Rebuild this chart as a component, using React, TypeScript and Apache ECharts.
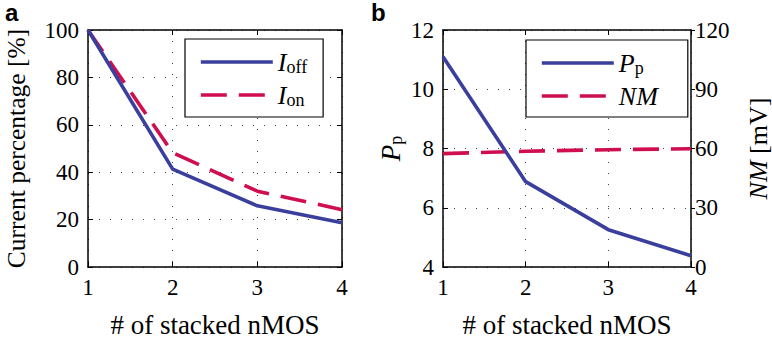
import React, { useEffect, useRef } from "react";
import * as echarts from "echarts";

const stacks = [1, 2, 3, 4];
const ioff = [100, 41.3, 25.8, 18.7];
const ion = [100, 48.2, 32.0, 24.2];
const pp = [11.1, 6.88, 5.26, 4.38];
const nm = [57.4, 58.6, 59.4, 59.9];

const leftTicks = { min: 0, max: 100, interval: 20 };
const ppTicks = { min: 4, max: 12, interval: 2 };
const nmTicks = { min: 0, max: 120, interval: 30 };

const BLUE = "#3a3f9e";
const RED = "#cf0d4f";
const SERIF = "Liberation Serif";
const TICK_FS = 23;
const LW = 3.6;
const DASH = [26, 12];

const pairs = (xs: number[], ys: number[]) => xs.map((x, i) => [x, ys[i]]);

const richTxt = {
  n: { fontFamily: SERIF, fontSize: 27, color: "#000" },
  y: { fontFamily: SERIF, fontSize: 25.5, color: "#000" },
  i: { fontFamily: SERIF, fontStyle: "italic", fontSize: 27, color: "#000" },
  li: { fontFamily: SERIF, fontStyle: "italic", fontSize: 26, color: "#000" },
  r: { fontFamily: SERIF, fontSize: 26, color: "#000" },
  s: { fontFamily: SERIF, fontSize: 18, color: "#000", padding: [10, 0, 0, 0] },
};

function baseAxisLine() {
  return { show: true, onZero: false, lineStyle: { color: "#000", width: 1.5 } };
}

export default function App() {
  const ref = useRef<HTMLDivElement>(null);
  useEffect(() => {
    document.body.style.margin = "0";
    const chart = echarts.init(ref.current!, null, { renderer: "svg" });
    const label = { color: "#000", fontFamily: SERIF, fontSize: TICK_FS };
    const split = { show: true, lineStyle: { type: [1, 10], color: "#444", width: 1 } };
    const tickIn = { show: true, inside: true, length: 5, lineStyle: { color: "#000", width: 1 } };
    const mainX = (gi: number) => ({
      type: "value", gridIndex: gi, min: 1, max: 4, interval: 1, position: "bottom",
      axisLine: baseAxisLine(), axisTick: tickIn, axisLabel: { ...label, margin: 9 },
      splitLine: split,
      name: "{n|# of stacked nMOS}", nameLocation: "middle", nameGap: 44,
      nameTextStyle: { rich: richTxt },
    });
    const mirrorX = (gi: number) => ({
      type: "value", gridIndex: gi, min: 1, max: 4, interval: 1, position: "top",
      axisLine: baseAxisLine(), axisTick: tickIn, axisLabel: { show: false }, splitLine: { show: false },
    });
    const legendCommon = {
      orient: "vertical",
      padding: [10, 16, 8, 14], itemGap: 6, itemWidth: 72, itemHeight: 25,
      borderColor: "#000", borderWidth: 1.2, backgroundColor: "#fff", borderRadius: 0,
      itemStyle: { opacity: 0 },
      lineStyle: { width: LW },
      textStyle: { rich: richTxt },
    };
    const option: any = {
      animation: false,
      backgroundColor: "#fff",
      textStyle: { fontFamily: SERIF },
      grid: [
        { left: 88, right: 430, top: 30, bottom: 73 },
        { left: 443, right: 76, top: 30, bottom: 73 },
      ],
      xAxis: [mainX(0), mirrorX(0), mainX(1), mirrorX(1)],
      yAxis: [
        {
          type: "value", gridIndex: 0, ...leftTicks, position: "left",
          axisLine: baseAxisLine(), axisTick: tickIn, axisLabel: { ...label, margin: 9 },
          splitLine: split,
          name: "{y|Current percentage [%]}", nameLocation: "middle", nameGap: 59, nameRotate: 90,
          nameTextStyle: { rich: richTxt, padding: [0, 0, 0, 0] },
        },
        {
          type: "value", gridIndex: 0, ...leftTicks, position: "right",
          axisLine: baseAxisLine(), axisTick: tickIn, axisLabel: { show: false }, splitLine: { show: false },
        },
        {
          type: "value", gridIndex: 1, ...ppTicks, position: "left",
          axisLine: baseAxisLine(), axisTick: tickIn, axisLabel: { ...label, margin: 9 },
          splitLine: split,
          name: "{i|P}{s|p}", nameLocation: "middle", nameGap: 38, nameRotate: 90,
          nameTextStyle: { rich: richTxt },
        },
        {
          type: "value", gridIndex: 1, ...nmTicks, position: "right",
          axisLine: baseAxisLine(), axisTick: { show: true, inside: false, length: 4, lineStyle: { color: "#000" } },
          axisLabel: { ...label, margin: 4 }, splitLine: { show: false },
          name: "{li|NM}{r| [mV]}", nameLocation: "middle", nameGap: 54, nameRotate: 90,
          nameTextStyle: { rich: richTxt },
        },
      ],
      legend: [
        {
          ...legendCommon,
          data: ["Ioff", "Ion"], left: 185, top: 39,
          formatter: (n: string) => (n === "Ioff" ? "{li|I}{s|off}" : "{li|I}{s|on}"),
        },
        {
          ...legendCommon,
          data: ["Pp", "NM"], left: 526, top: 40,
          padding: [10, 30, 8, 14],
          formatter: (n: string) => (n === "Pp" ? "{li|P}{s|p}" : "{li|NM}"),
        },
      ],
      graphic: [
        { type: "text", left: 5, top: 0, style: { text: "a", font: "bold 24px 'Liberation Sans', Arial, sans-serif", fill: "#000" } },
        { type: "text", left: 371, top: 0, style: { text: "b", font: "bold 24px 'Liberation Sans', Arial, sans-serif", fill: "#000" } },
      ],
      series: [
        {
          name: "Ioff", type: "line", xAxisIndex: 0, yAxisIndex: 0, data: pairs(stacks, ioff),
          symbol: "none", lineStyle: { color: BLUE, width: LW }, itemStyle: { color: BLUE }, z: 3,
        },
        {
          name: "Ion", type: "line", xAxisIndex: 0, yAxisIndex: 0, data: pairs(stacks, ion),
          symbol: "none", lineStyle: { color: RED, width: LW, type: DASH }, itemStyle: { color: RED }, z: 2,
        },
        {
          name: "Pp", type: "line", xAxisIndex: 2, yAxisIndex: 2, data: pairs(stacks, pp),
          symbol: "none", lineStyle: { color: BLUE, width: LW }, itemStyle: { color: BLUE }, z: 3,
        },
        {
          name: "NM", type: "line", xAxisIndex: 2, yAxisIndex: 3, data: pairs(stacks, nm),
          symbol: "none", lineStyle: { color: RED, width: LW, type: DASH }, itemStyle: { color: RED }, z: 2,
        },
      ],
    };
    chart.setOption(option);
    return () => chart.dispose();
  }, []);
  return <div ref={ref} style={{ position: "fixed", left: 0, top: 0, width: 772, height: 343 }} />;
}
